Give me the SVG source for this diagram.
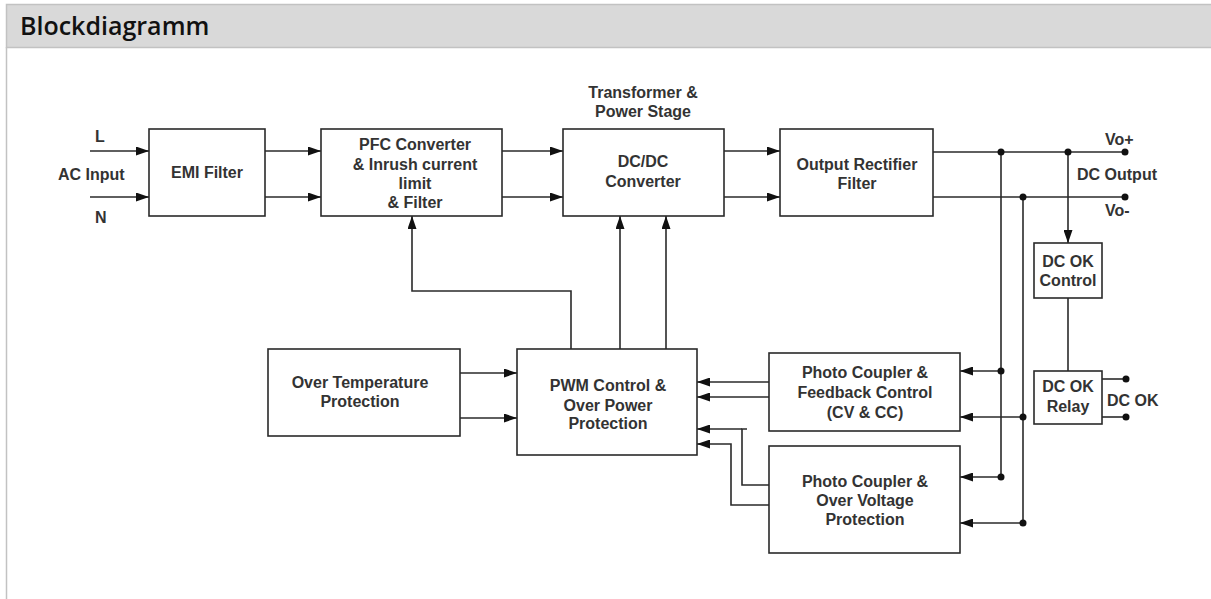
<svg xmlns="http://www.w3.org/2000/svg" width="1211" height="599" viewBox="0 0 1211 599">
<style>
.box{fill:#fff;stroke:#2a2a2a;stroke-width:1.6}
.t{font-family:"Liberation Sans",Arial,sans-serif;font-weight:bold;font-size:16px;fill:#333;text-anchor:middle}
.tl{font-family:"Liberation Sans",Arial,sans-serif;font-weight:bold;font-size:16px;fill:#333}
.c{fill:none;stroke:#2a2a2a;stroke-width:1.6}
.dot{fill:#111}
</style>
<defs>
<marker id="ah" viewBox="0 0 13 9" refX="13" refY="4.5" markerWidth="13" markerHeight="9" markerUnits="userSpaceOnUse" orient="auto">
<path d="M0,0 L13,4.5 L0,9 z" fill="#111"/>
</marker>
</defs>
<rect x="0" y="0" width="1211" height="599" fill="#fff"/>
<g id="header">
<rect x="6.5" y="4.5" width="1210" height="43" fill="#d9d9d9" stroke="#c2c2c2" stroke-width="1.5"/>
<line x1="6.5" y1="47" x2="6.5" y2="599" stroke="#c2c2c2" stroke-width="1.5"/>
<text x="20" y="35" font-family="'Open Sans',sans-serif" font-weight="600" font-size="25" fill="#111">Blockdiagramm</text>
</g>
<g id="connectors">
<path class="c" d="M90,151 H149" marker-end="url(#ah)"/>
<path class="c" d="M90,197 H149" marker-end="url(#ah)"/>
<path class="c" d="M265,151 H321" marker-end="url(#ah)"/>
<path class="c" d="M265,197 H321" marker-end="url(#ah)"/>
<path class="c" d="M502,151 H563" marker-end="url(#ah)"/>
<path class="c" d="M502,197 H563" marker-end="url(#ah)"/>
<path class="c" d="M724,151 H780" marker-end="url(#ah)"/>
<path class="c" d="M724,197 H780" marker-end="url(#ah)"/>
<path class="c" d="M933,152 H1125"/>
<path class="c" d="M933,197 H1125"/>
<path class="c" d="M1068,152 V243" marker-end="url(#ah)"/>
<path class="c" d="M1068,298 V371"/>
<path class="c" d="M1102,379 H1126"/>
<path class="c" d="M1102,417 H1126"/>
<path class="c" d="M1001,152 V477"/>
<path class="c" d="M1023,197 V523"/>
<path class="c" d="M1001,371 H960" marker-end="url(#ah)"/>
<path class="c" d="M1023,417 H960" marker-end="url(#ah)"/>
<path class="c" d="M1001,477 H960" marker-end="url(#ah)"/>
<path class="c" d="M1023,523 H960" marker-end="url(#ah)"/>
<path class="c" d="M769,382 H697" marker-end="url(#ah)"/>
<path class="c" d="M769,397 H697" marker-end="url(#ah)"/>
<path class="c" d="M747,429 H742 V485 H769"/>
<path class="c" d="M742,429 H697" marker-end="url(#ah)"/>
<path class="c" d="M769,505 H731 V444 H697" marker-end="url(#ah)"/>
<path class="c" d="M460,373 H517" marker-end="url(#ah)"/>
<path class="c" d="M460,418 H517" marker-end="url(#ah)"/>
<path class="c" d="M571,349 V291 H412 V216" marker-end="url(#ah)"/>
<path class="c" d="M620,349 V216" marker-end="url(#ah)"/>
<path class="c" d="M666,349 V216" marker-end="url(#ah)"/>
<circle class="dot" cx="1001" cy="152" r="3.5"/>
<circle class="dot" cx="1068" cy="152" r="3.5"/>
<circle class="dot" cx="1125" cy="152" r="3.5"/>
<circle class="dot" cx="1023" cy="197" r="3.5"/>
<circle class="dot" cx="1125" cy="197" r="3.5"/>
<circle class="dot" cx="1001" cy="371" r="3.5"/>
<circle class="dot" cx="1023" cy="417" r="3.5"/>
<circle class="dot" cx="1001" cy="477" r="3.5"/>
<circle class="dot" cx="1023" cy="523" r="3.5"/>
<circle class="dot" cx="1126" cy="379" r="3.5"/>
<circle class="dot" cx="1126" cy="417" r="3.5"/>
</g>
<g id="labels">
<text class="tl" x="95" y="142">L</text>
<text class="tl" x="58" y="180">AC Input</text>
<text class="tl" x="95" y="223">N</text>
<text class="t" x="643" y="98">Transformer &amp;</text>
<text class="t" x="643" y="117">Power Stage</text>
<text class="tl" x="1105" y="145">Vo+</text>
<text class="tl" x="1077" y="180">DC Output</text>
<text class="tl" x="1105" y="216">Vo-</text>
<text class="tl" x="1107" y="406">DC OK</text>
</g>
<g id="emi">
<rect class="box" x="149" y="129" width="116" height="87"/>
<text class="t" x="207" y="178">EMI Filter</text>
</g>
<g id="pfc">
<rect class="box" x="321" y="129" width="181" height="87"/>
<text class="t" x="415" y="150">PFC Converter</text>
<text class="t" x="415" y="170">&amp; Inrush current</text>
<text class="t" x="415" y="189">limit</text>
<text class="t" x="415" y="208">&amp; Filter</text>
</g>
<g id="dcdc">
<rect class="box" x="563" y="129" width="161" height="87"/>
<text class="t" x="643" y="167">DC/DC</text>
<text class="t" x="643" y="187">Converter</text>
</g>
<g id="orf">
<rect class="box" x="780" y="129" width="153" height="87"/>
<text class="t" x="857" y="170">Output Rectifier</text>
<text class="t" x="857" y="189">Filter</text>
</g>
<g id="dcokctrl">
<rect class="box" x="1034" y="243" width="68" height="55"/>
<text class="t" x="1068" y="267">DC OK</text>
<text class="t" x="1068" y="286">Control</text>
</g>
<g id="dcokrelay">
<rect class="box" x="1034" y="371" width="68" height="53"/>
<text class="t" x="1068" y="392">DC OK</text>
<text class="t" x="1068" y="412">Relay</text>
</g>
<g id="otp">
<rect class="box" x="268" y="349" width="192" height="87"/>
<text class="t" x="360" y="388">Over Temperature</text>
<text class="t" x="360" y="407">Protection</text>
</g>
<g id="pwm">
<rect class="box" x="517" y="349" width="180" height="106"/>
<text class="t" x="608" y="391">PWM Control &amp;</text>
<text class="t" x="608" y="411">Over Power</text>
<text class="t" x="608" y="429">Protection</text>
</g>
<g id="feedback">
<rect class="box" x="769" y="353" width="191" height="78"/>
<text class="t" x="865" y="378">Photo Coupler &amp;</text>
<text class="t" x="865" y="398">Feedback Control</text>
<text class="t" x="865" y="418">(CV &amp; CC)</text>
</g>
<g id="ovp">
<rect class="box" x="769" y="446" width="191" height="107"/>
<text class="t" x="865" y="487">Photo Coupler &amp;</text>
<text class="t" x="865" y="506">Over Voltage</text>
<text class="t" x="865" y="525">Protection</text>
</g>
</svg>
